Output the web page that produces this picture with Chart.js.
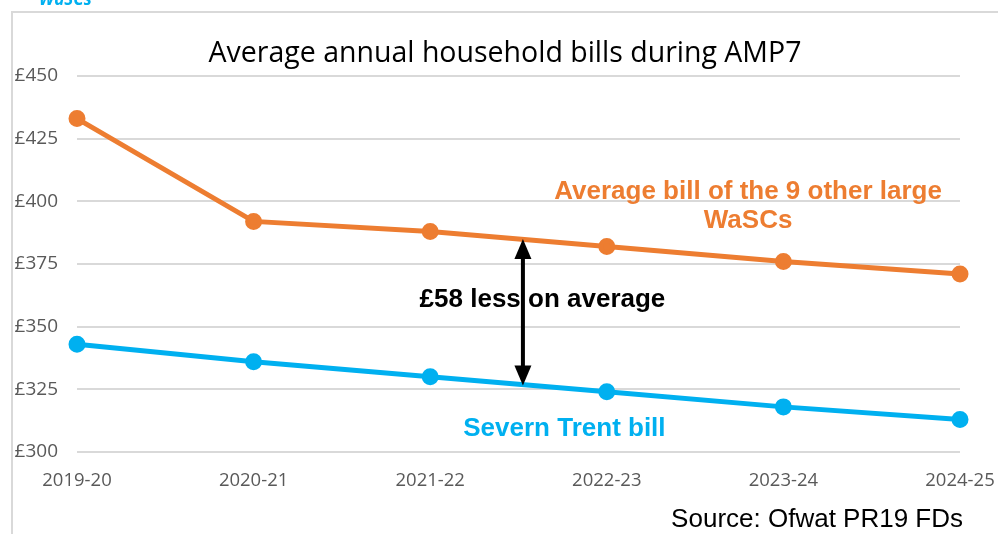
<!DOCTYPE html>
<html>
<head>
<meta charset="utf-8">
<script src="https://cdn.jsdelivr.net/npm/chart.js@4.4.0/dist/chart.umd.min.js"></script>
<style>
  html, body { margin: 0; padding: 0; background: #fff; }
  #wrap { position: relative; width: 998px; height: 534px; overflow: hidden; }
</style>
</head>
<body>
<div id="wrap"><canvas id="billsChart" width="998" height="534"></canvas></div>
<script>
// Data
const years = ['2019-20', '2020-21', '2021-22', '2022-23', '2023-24', '2024-25'];
const otherWascs = [433, 392, 388, 382, 376, 371];   // average bill of the 9 other large WaSCs
const severnTrent = [343, 336, 330, 324, 318, 313];  // Severn Trent bill
const yTicks = [300, 325, 350, 375, 400, 425, 450];

const orange = '#ED7D31';
const blue = '#00B0F0';
const tickFont = '"Open Sans", sans-serif';

// draws the frame, title, line labels, arrow and source note
const annotations = {
  id: 'annotations',
  afterDraw(chart) {
    const ctx = chart.ctx;
    const x = chart.scales.x, y = chart.scales.y;
    ctx.save();

    // outer frame (runs off the right and bottom edges)
    ctx.strokeStyle = '#d9d9d9';
    ctx.lineWidth = 2;
    ctx.strokeRect(12, 12, 1100, 600);

    ctx.textBaseline = 'alphabetic';

    // cut-off heading above the frame
    ctx.fillStyle = blue;
    ctx.font = 'italic bold 17px "Open Sans", sans-serif';
    ctx.textAlign = 'left';
    ctx.fillText('WaSCs', 39, 5);

    // title
    ctx.fillStyle = '#000';
    ctx.font = '28.5px "Open Sans", sans-serif';
    ctx.textAlign = 'center';
    ctx.fillText('Average annual household bills during AMP7', 505, 62);

    // series labels
    ctx.font = 'bold 26px "Liberation Sans", Arial, sans-serif';
    ctx.fillStyle = orange;
    ctx.fillText('Average bill of the 9 other large', x.getPixelForValue(3.8), y.getPixelForValue(400.9));
    ctx.fillText('WaSCs', x.getPixelForValue(3.8), y.getPixelForValue(389.4));
    ctx.fillStyle = blue;
    ctx.fillText('Severn Trent bill', x.getPixelForValue(2.76), y.getPixelForValue(306.4));

    // difference arrow
    const ax = x.getPixelForValue(2.525);
    const top = y.getPixelForValue(385), bot = y.getPixelForValue(326.5);
    ctx.strokeStyle = '#000';
    ctx.fillStyle = '#000';
    ctx.lineWidth = 4;
    ctx.beginPath();
    ctx.moveTo(ax, top + 15);
    ctx.lineTo(ax, bot - 15);
    ctx.stroke();
    ctx.beginPath();
    ctx.moveTo(ax, top); ctx.lineTo(ax - 8.5, top + 20); ctx.lineTo(ax + 8.5, top + 20); ctx.closePath();
    ctx.fill();
    ctx.beginPath();
    ctx.moveTo(ax, bot); ctx.lineTo(ax - 8.5, bot - 20); ctx.lineTo(ax + 8.5, bot - 20); ctx.closePath();
    ctx.fill();

    ctx.textAlign = 'left';
    ctx.fillText('£58 less on average', x.getPixelForValue(1.94), y.getPixelForValue(357.9));

    // source
    ctx.font = '26px "Liberation Sans", Arial, sans-serif';
    ctx.textAlign = 'right';
    ctx.fillText('Source: Ofwat PR19 FDs', 963, 527);

    ctx.restore();
  }
};

new Chart(document.getElementById('billsChart'), {
  type: 'line',
  data: {
    labels: years,
    datasets: [
      {
        label: 'Average bill of the 9 other large WaSCs',
        data: otherWascs,
        borderColor: orange,
        backgroundColor: orange,
        borderWidth: 5,
        pointRadius: 6,
        pointHoverRadius: 6,
        tension: 0
      },
      {
        label: 'Severn Trent bill',
        data: severnTrent,
        borderColor: blue,
        backgroundColor: blue,
        borderWidth: 5,
        pointRadius: 6,
        pointHoverRadius: 6,
        tension: 0
      }
    ]
  },
  options: {
    responsive: false,
    animation: false,
    layout: { padding: { left: 12, right: 38, top: 76, bottom: 0 } },
    plugins: {
      legend: { display: false },
      title: { display: false },
      tooltip: { enabled: false }
    },
    scales: {
      x: {
        offset: false,
        grid: { display: false, drawTicks: false },
        border: { display: false },
        ticks: { color: '#595959', font: { family: tickFont, size: 18.5 }, padding: 18, maxRotation: 0 },
        afterFit(s) {
          s.height = 82;
          s.paddingLeft = 0;
          s.paddingRight = 0;
        }
      },
      y: {
        min: 300,
        max: 450,
        afterBuildTicks(s) { s.ticks = yTicks.map(v => ({ value: v })); },
        grid: { color: '#d9d9d9', lineWidth: 2, drawTicks: false },
        border: { display: false },
        ticks: {
          color: '#595959',
          font: { family: tickFont, size: 19 },
          padding: 19,
          callback: v => '£' + v
        },
        afterFit(s) {
          s.width = 65;
          s.paddingTop = 0;
          s.paddingBottom = 0;
        }
      }
    }
  },
  plugins: [annotations]
});
</script>
</body>
</html>
